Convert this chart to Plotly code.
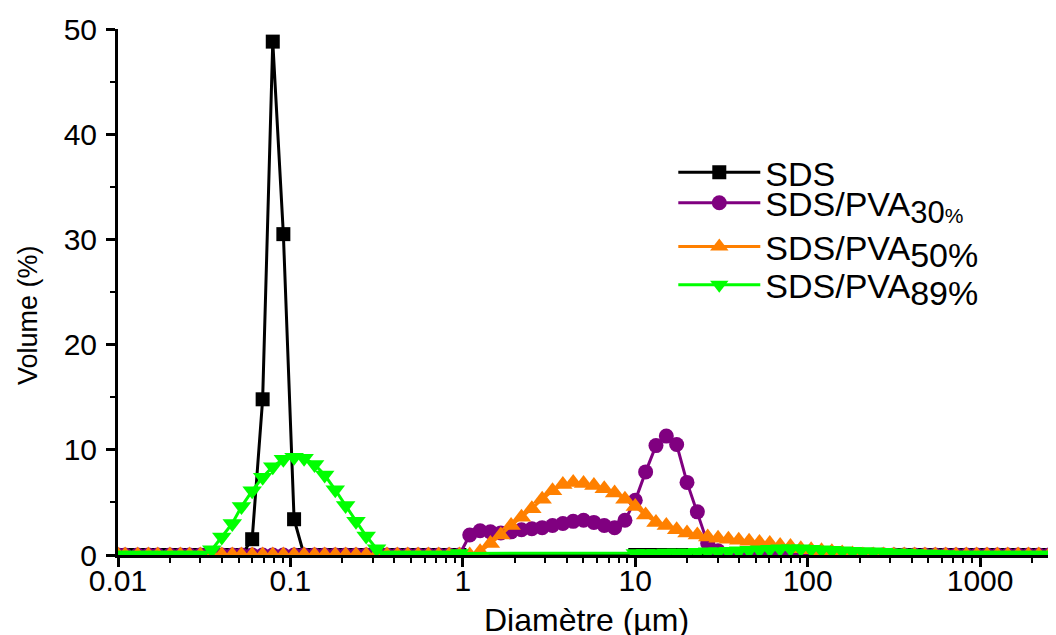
import plotly.graph_objects as go

# Particle size classes (µm)
diam = [0.010, 0.011, 0.013, 0.015, 0.017, 0.020, 0.023, 0.026, 0.030, 0.035,
        0.040, 0.046, 0.052, 0.060, 0.069, 0.079, 0.091, 0.105, 0.120, 0.138,
        0.158, 0.182, 0.209, 0.240, 0.275, 0.316, 0.363, 0.417, 0.479, 0.550,
        0.631, 0.724, 0.832, 0.955, 1.096, 1.259, 1.445, 1.660, 1.905, 2.188,
        2.512, 2.884, 3.311, 3.802, 4.365, 5.012, 5.754, 6.607, 7.586, 8.710,
        10.000, 11.482, 13.183, 15.136, 17.378, 19.953, 22.909, 26.303, 30.200, 34.674,
        39.811, 45.709, 52.481, 60.256, 69.183, 79.433, 91.201, 104.713, 120.226, 138.038,
        158.489, 181.970, 208.930, 239.883, 275.423, 316.228, 363.078, 416.869, 478.630, 549.541,
        630.957, 724.436, 831.764, 954.993, 1096.478, 1258.925, 1445.440, 1659.587, 1905.461, 2187.762,
        2511.886, 2884.032, 3311.311]

N = None
sds = [0, 0, 0, 0, 0, 0, 0, 0, 0, 0,
       0, 0, 0, 1.5, 14.8, 48.8, 30.5, 3.4, 0, 0,
       0, 0, 0, 0, 0, 0, 0, 0, 0, 0,
       0, 0, 0, 0, N, N, N, N, N, N,
       N, N, N, N, N, N, N, N, N, N,
       0, 0, 0, 0, 0, 0, 0, 0, 0, 0,
       0, 0, 0, 0, 0, 0, 0, 0, 0, 0,
       0, 0, 0, 0, 0, 0, 0, 0, 0, 0,
       0, 0, 0, 0, 0, 0, 0, 0, 0, 0,
       0, 0, 0]

pva30 = [0, 0, 0, 0, 0, 0, 0, 0, 0, 0,
         0, 0, 0, 0, 0, 0, 0, 0, 0, 0,
         0, 0, 0, 0, 0, 0, 0, 0, 0, 0,
         0, 0, 0, 0, 1.9, 2.3, 2.2, 2.1, 2.2, 2.4,
         2.5, 2.6, 2.8, 3.0, 3.2, 3.3, 3.1, 2.8, 2.6, 3.3,
         5.2, 7.9, 10.4, 11.3, 10.5, 6.9, 4.1, 1.1, 0.4, 0,
         0, 0, 0, 0, 0, 0, 0, 0, 0, 0,
         0, 0, 0, 0, 0, 0, 0, 0, 0, 0,
         0, 0, 0, 0, 0, 0, 0, 0, 0, 0,
         0, 0, 0]

pva50 = [0, 0, 0, 0, 0, 0, 0, 0, 0, 0,
         0, 0, 0, 0, 0, 0, 0, 0, 0, 0,
         0, 0, 0, 0, 0, 0, 0, 0, 0, 0,
         0, 0, 0, 0, 0, 0.3, 1.1, 1.9, 2.8, 3.6,
         4.4, 5.3, 6.1, 6.7, 6.9, 6.8, 6.6, 6.3, 5.9, 5.3,
         4.6, 3.8, 3.1, 2.8, 2.4, 2.1, 1.9, 1.7, 1.6, 1.5,
         1.4, 1.3, 1.2, 1.1, 0.9, 0.8, 0.6, 0.5, 0.4, 0.3,
         0.2, 0.1, 0, 0, 0, 0, 0, 0, 0, 0,
         0, 0, 0, 0, 0, 0, 0, 0, 0, 0,
         0, 0, 0]

pva89 = [0, 0, 0, 0, 0, 0, 0, 0, 0, 0.5,
         1.7, 3.0, 4.6, 6.1, 7.4, 8.4, 9.1, 9.3, 9.2, 8.6,
         7.6, 6.2, 4.7, 3.2, 1.8, 0.6, 0, 0, 0, 0,
         0, 0, 0, 0.15, N, N, N, N, N, N,
         N, N, N, N, N, N, N, N, N, N,
         0.15, 0.15, 0.15, 0.2, 0.2, 0.2, 0.25, 0.3, 0.3, 0.35,
         0.4, 0.45, 0.5, 0.55, 0.6, 0.6, 0.6, 0.55, 0.5, 0.45,
         0.4, 0.35, 0.3, 0.3, 0.25, 0.2, 0.2, 0.15, 0.1, 0.1,
         0.05, 0, 0, 0, 0, 0, 0, 0, 0, 0,
         0, 0, 0]

series_names = ["SDS",
                "SDS/PVA<sub><span style='font-size:31px'>30<span style='font-size:21px'>%</span></span></sub>",
                "SDS/PVA<sub><span style='font-size:34px'>50%</span></sub>",
                "SDS/PVA<sub><span style='font-size:34px'>89%</span></sub>"]
series_vals = [sds, pva30, pva50, pva89]
colors = ["#000000", "#800080", "#FF8000", "#00FF00"]
symbols = ["square", "circle", "triangle-up", "triangle-down"]
msizes = [14, 15, 17, 17]
legend_ids = ["legend", "legend2", "legend3", "legend4"]
legend_y = [0.782, 0.724, 0.641, 0.568]

x_tickvals = [0.01, 0.1, 1, 10, 100, 1000]
x_ticktext = ["0.01", "0.1", "1", "10", "100", "1000"]

FONT = "Liberation Sans, Arial, sans-serif"

fig = go.Figure()
for name, vals, c, s, ms, lg in zip(series_names, series_vals, colors, symbols, msizes, legend_ids):
    fig.add_trace(go.Scatter(
        x=diam, y=vals, name=name, mode="lines+markers",
        connectgaps=True, legend=lg,
        line=dict(color=c, width=3),
        marker=dict(symbol=s, size=ms, color=c, line=dict(width=0)),
    ))

leg_common = dict(x=0.592, xanchor="left", yanchor="top",
                  bgcolor="rgba(0,0,0,0)", font=dict(size=34, family=FONT),
                  itemwidth=82)
layout_legends = {lg: dict(leg_common, y=yy) for lg, yy in zip(legend_ids, legend_y)}

# the page body adds an 8px offset; margins compensate so the plot area sits at
# x 118..1056, y 29..555 in the browser window
fig.update_layout(
    width=1056, height=635,
    margin=dict(l=110, r=8, t=21, b=88, autoexpand=False),
    plot_bgcolor="white", paper_bgcolor="white",
    font=dict(family=FONT, color="black", size=30),
    showlegend=True,
    **layout_legends,
)
fig.update_xaxes(
    type="log", range=[-2, 3.44], automargin=False,
    tickvals=x_tickvals, ticktext=x_ticktext,
    showgrid=False, zeroline=False,
    showline=True, linecolor="black", linewidth=3,
    ticks="outside", ticklen=9, tickwidth=3, tickcolor="black",
    minor=dict(ticks="outside", ticklen=5, tickwidth=2, tickcolor="black", dtick="D1", showgrid=False),
    tickfont=dict(size=30, family=FONT),
    ticklabelstandoff=-12,
)
fig.update_yaxes(
    range=[0, 50], dtick=10, automargin=False,
    showgrid=False, zeroline=False,
    showline=True, linecolor="black", linewidth=3,
    ticks="outside", ticklen=9, tickwidth=3, tickcolor="black",
    minor=dict(ticks="outside", ticklen=5, tickwidth=2, tickcolor="black", dtick=5, showgrid=False),
    tickfont=dict(size=30, family=FONT),
    ticklabelstandoff=3,
)
fig.add_annotation(text="Diamètre (µm)", xref="paper", yref="paper",
                   x=0.4995, y=-0.1236, xanchor="center", yanchor="middle",
                   showarrow=False, font=dict(size=32, family=FONT))
fig.add_annotation(text="Volume (%)", xref="paper", yref="paper",
                   x=-0.096, y=0.456, xanchor="center", yanchor="middle",
                   textangle=-90, showarrow=False, font=dict(size=27, family=FONT))

fig.write_html("out.html")
